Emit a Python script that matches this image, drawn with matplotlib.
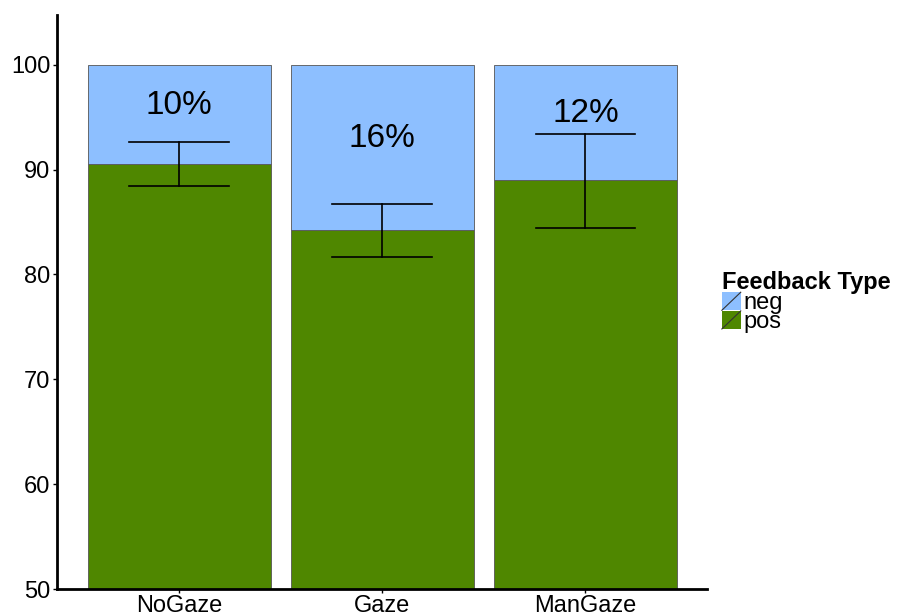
import numpy as np
import matplotlib.pyplot as plt
from matplotlib.patches import Rectangle
from matplotlib.lines import Line2D
from matplotlib.legend_handler import HandlerPatch

plt.rcParams['font.family'] = ['Liberation Sans', 'DejaVu Sans']

# data
conds = ["NoGaze", "Gaze", "ManGaze"]
pos = [90.5, 84.2, 89.0]
neg_pct = ["10%", "16%", "12%"]
err_lo = [88.4, 81.7, 84.4]
err_hi = [92.6, 86.7, 93.4]
label_y = [96.1, 93.0, 95.3]

c_neg = "#8dbfff"
c_pos = "#4f8700"

fig = plt.figure(figsize=[9.08, 6.15], dpi=100)
ax = fig.add_axes([0.063, 0.042, 0.716, 0.933])

x = np.arange(1, len(conds) + 1)
ax.bar(x, pos, width=0.9, bottom=0, color=c_pos, edgecolor="#555555", linewidth=0.6)
ax.bar(x, [100 - p for p in pos], width=0.9, bottom=pos, color=c_neg,
       edgecolor="#555555", linewidth=0.6)

# error bars
for xi, lo, hi in zip(x, err_lo, err_hi):
    ax.plot([xi, xi], [lo, hi], color="black", lw=1.2)
    ax.plot([xi - 0.245, xi + 0.245], [lo, lo], color="black", lw=1.2)
    ax.plot([xi - 0.245, xi + 0.245], [hi, hi], color="black", lw=1.2)

for xi, yl, t in zip(x, label_y, neg_pct):
    ax.text(xi, yl, t, ha="center", va="center", fontsize=24)

ax.set_xlim(0.4, 3.6)
ax.set_ylim(50, 104.7)
ax.set_xticks(x)
ax.set_xticklabels(conds, fontsize=17)
ax.set_yticks([50, 60, 70, 80, 90, 100])
ax.tick_params(axis="y", labelsize=17, length=3, width=1, pad=2)
ax.tick_params(axis="x", length=3, width=1, pad=1)
for s in ["top", "right"]:
    ax.spines[s].set_visible(False)
for s in ["left", "bottom"]:
    ax.spines[s].set_linewidth(2)


class SlashHandler(HandlerPatch):
    def create_artists(self, legend, orig_handle, xdescent, ydescent,
                       width, height, fontsize, trans):
        r = Rectangle((-xdescent, -ydescent), width, height,
                      facecolor=orig_handle.get_facecolor(), edgecolor="none",
                      transform=trans)
        l = Line2D([-xdescent, -xdescent + width], [-ydescent, -ydescent + height],
                   color="#333333", lw=0.8, transform=trans)
        return [r, l]


handles = [Rectangle((0, 0), 1, 1, facecolor=c_neg),
           Rectangle((0, 0), 1, 1, facecolor=c_pos)]
leg = fig.legend(handles, ["neg", "pos"], loc="upper left",
                 bbox_to_anchor=(0.795, 0.56), frameon=False,
                 fontsize=17, title="Feedback Type",
                 title_fontproperties={"weight": "bold", "size": 17},
                 handlelength=0.8, handleheight=0.8, handletextpad=0.1,
                 labelspacing=-0.15, borderaxespad=0, borderpad=0,
                 handler_map={Rectangle: SlashHandler()})
leg._legend_box.align = "left"
leg._legend_box.sep = -1

fig.savefig("out.png", dpi=100)
